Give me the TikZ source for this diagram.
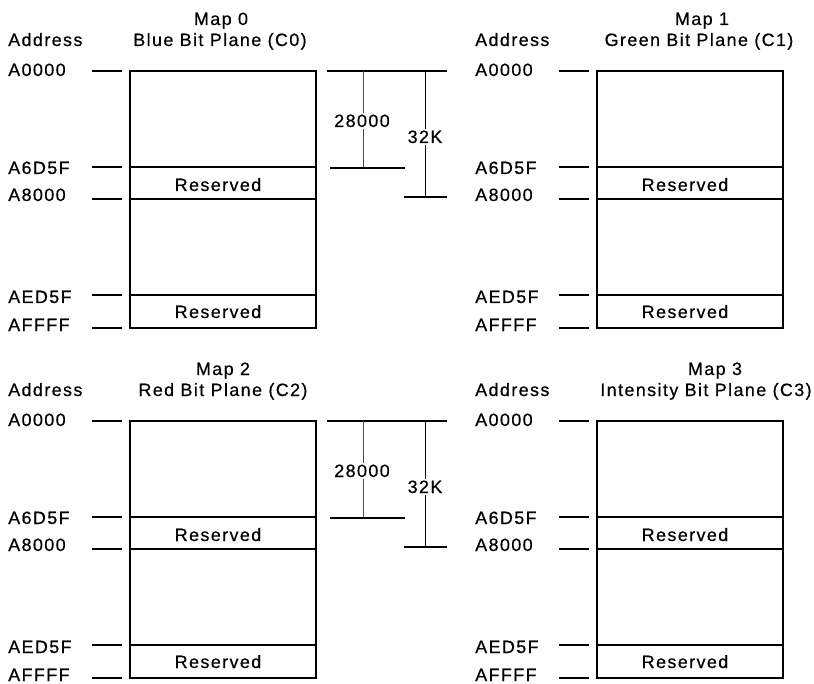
\documentclass[tikz,border=0pt]{standalone}
\usepackage{fontspec}
\setmainfont{Liberation Sans}[LetterSpace=8, FakeBold=0.6]
\tikzset{
  lbl/.style={anchor=base west, inner sep=0pt, font=\fontsize{13.4}{16}\selectfont},
  ttl/.style={anchor=base, inner sep=0pt, font=\fontsize{13.4}{16}\selectfont},
  dimtxt/.style={anchor=base, inner sep=1.5pt, fill=white, font=\fontsize{13.4}{16}\selectfont},
  tickline/.style={line width=1.7pt},
  boxline/.style={line width=2pt},
  dimline/.style={line width=1pt},
  dimfine/.style={line width=0.75pt, black!70},
}
\newcommand\mpanel[7]{%
\begin{scope}[shift={(#1,#2)}]
  \node[lbl] (#3addr) at (8,46) {Address};
  \node[ttl] (#3map) at (#6,25) {#4};
  \node[ttl] (#3plane) at (#7,46) {#5};
  \node[lbl] (#3la) at (8,76) {A0000};
  \node[lbl] (#3lb) at (8,174) {A6D5F};
  \node[lbl] (#3lc) at (8,201) {A8000};
  \node[lbl] (#3ld) at (8,303) {AED5F};
  \node[lbl] (#3le) at (8,331) {AFFFF};
  \coordinate (#3ta) at (92,71);  \coordinate (#3tA) at (122,71);
  \coordinate (#3tb) at (92,167); \coordinate (#3tB) at (122,167);
  \coordinate (#3tc) at (92,199); \coordinate (#3tC) at (122,199);
  \coordinate (#3td) at (92,295); \coordinate (#3tD) at (122,295);
  \coordinate (#3te) at (92,328); \coordinate (#3tE) at (122,328);
  \draw[tickline] (#3ta) -- (#3tA);
  \draw[tickline] (#3tb) -- (#3tB);
  \draw[tickline] (#3tc) -- (#3tC);
  \draw[tickline] (#3td) -- (#3tD);
  \draw[tickline] (#3te) -- (#3tE);
  \coordinate (#3bnw) at (130,71); \coordinate (#3bse) at (316,328);
  \draw[boxline] (#3bnw) rectangle (#3bse);
  \draw[boxline] (130,167) -- (316,167);
  \draw[boxline] (130,199) -- (316,199);
  \draw[boxline] (130,295) -- (316,295);
  \node[ttl] (#3r1) at (218,191) {Reserved};
  \node[ttl] (#3r2) at (218,318) {Reserved};
\end{scope}}
\newcommand\dimblock[2]{%
\begin{scope}[shift={(0,#1)}]
  \coordinate (#2a) at (327,71); \coordinate (#2b) at (447,71);
  \coordinate (#2c) at (363,71); \coordinate (#2d) at (363,168);
  \coordinate (#2e) at (330,168); \coordinate (#2f) at (405,168);
  \coordinate (#2g) at (425,71); \coordinate (#2h) at (425,197);
  \coordinate (#2i) at (404,197); \coordinate (#2j) at (447,197);
  \draw[dimline] (#2a) -- (#2b);
  \draw[dimfine] (#2c) -- (#2d);
  \draw[dimline] (#2e) -- (#2f);
  \draw[dimfine, black] (#2g) -- (#2h);
  \draw[dimline, line width=1.4pt] (#2i) -- (#2j);
  \node[dimtxt] (#2n1) at (362,127) {28000};
  \node[dimtxt] (#2n2) at (425,143) {32K};
\end{scope}}
\begin{document}
\begin{tikzpicture}[x=0.75pt, y=-0.75pt]
  \useasboundingbox (0,0) rectangle (814,684);
  \mpanel{0}{0}{p0}{Map 0}{Blue Bit Plane (C0)}{221}{220}
  \mpanel{467}{0}{p1}{Map 1}{Green Bit Plane (C1)}{235}{232}
  \mpanel{0}{350}{p2}{Map 2}{Red Bit Plane (C2)}{223}{223}
  \mpanel{467}{350}{p3}{Map 3}{Intensity Bit Plane (C3)}{248}{239}
  \dimblock{0}{d0}
  \dimblock{350}{d1}
\end{tikzpicture}
\end{document}
